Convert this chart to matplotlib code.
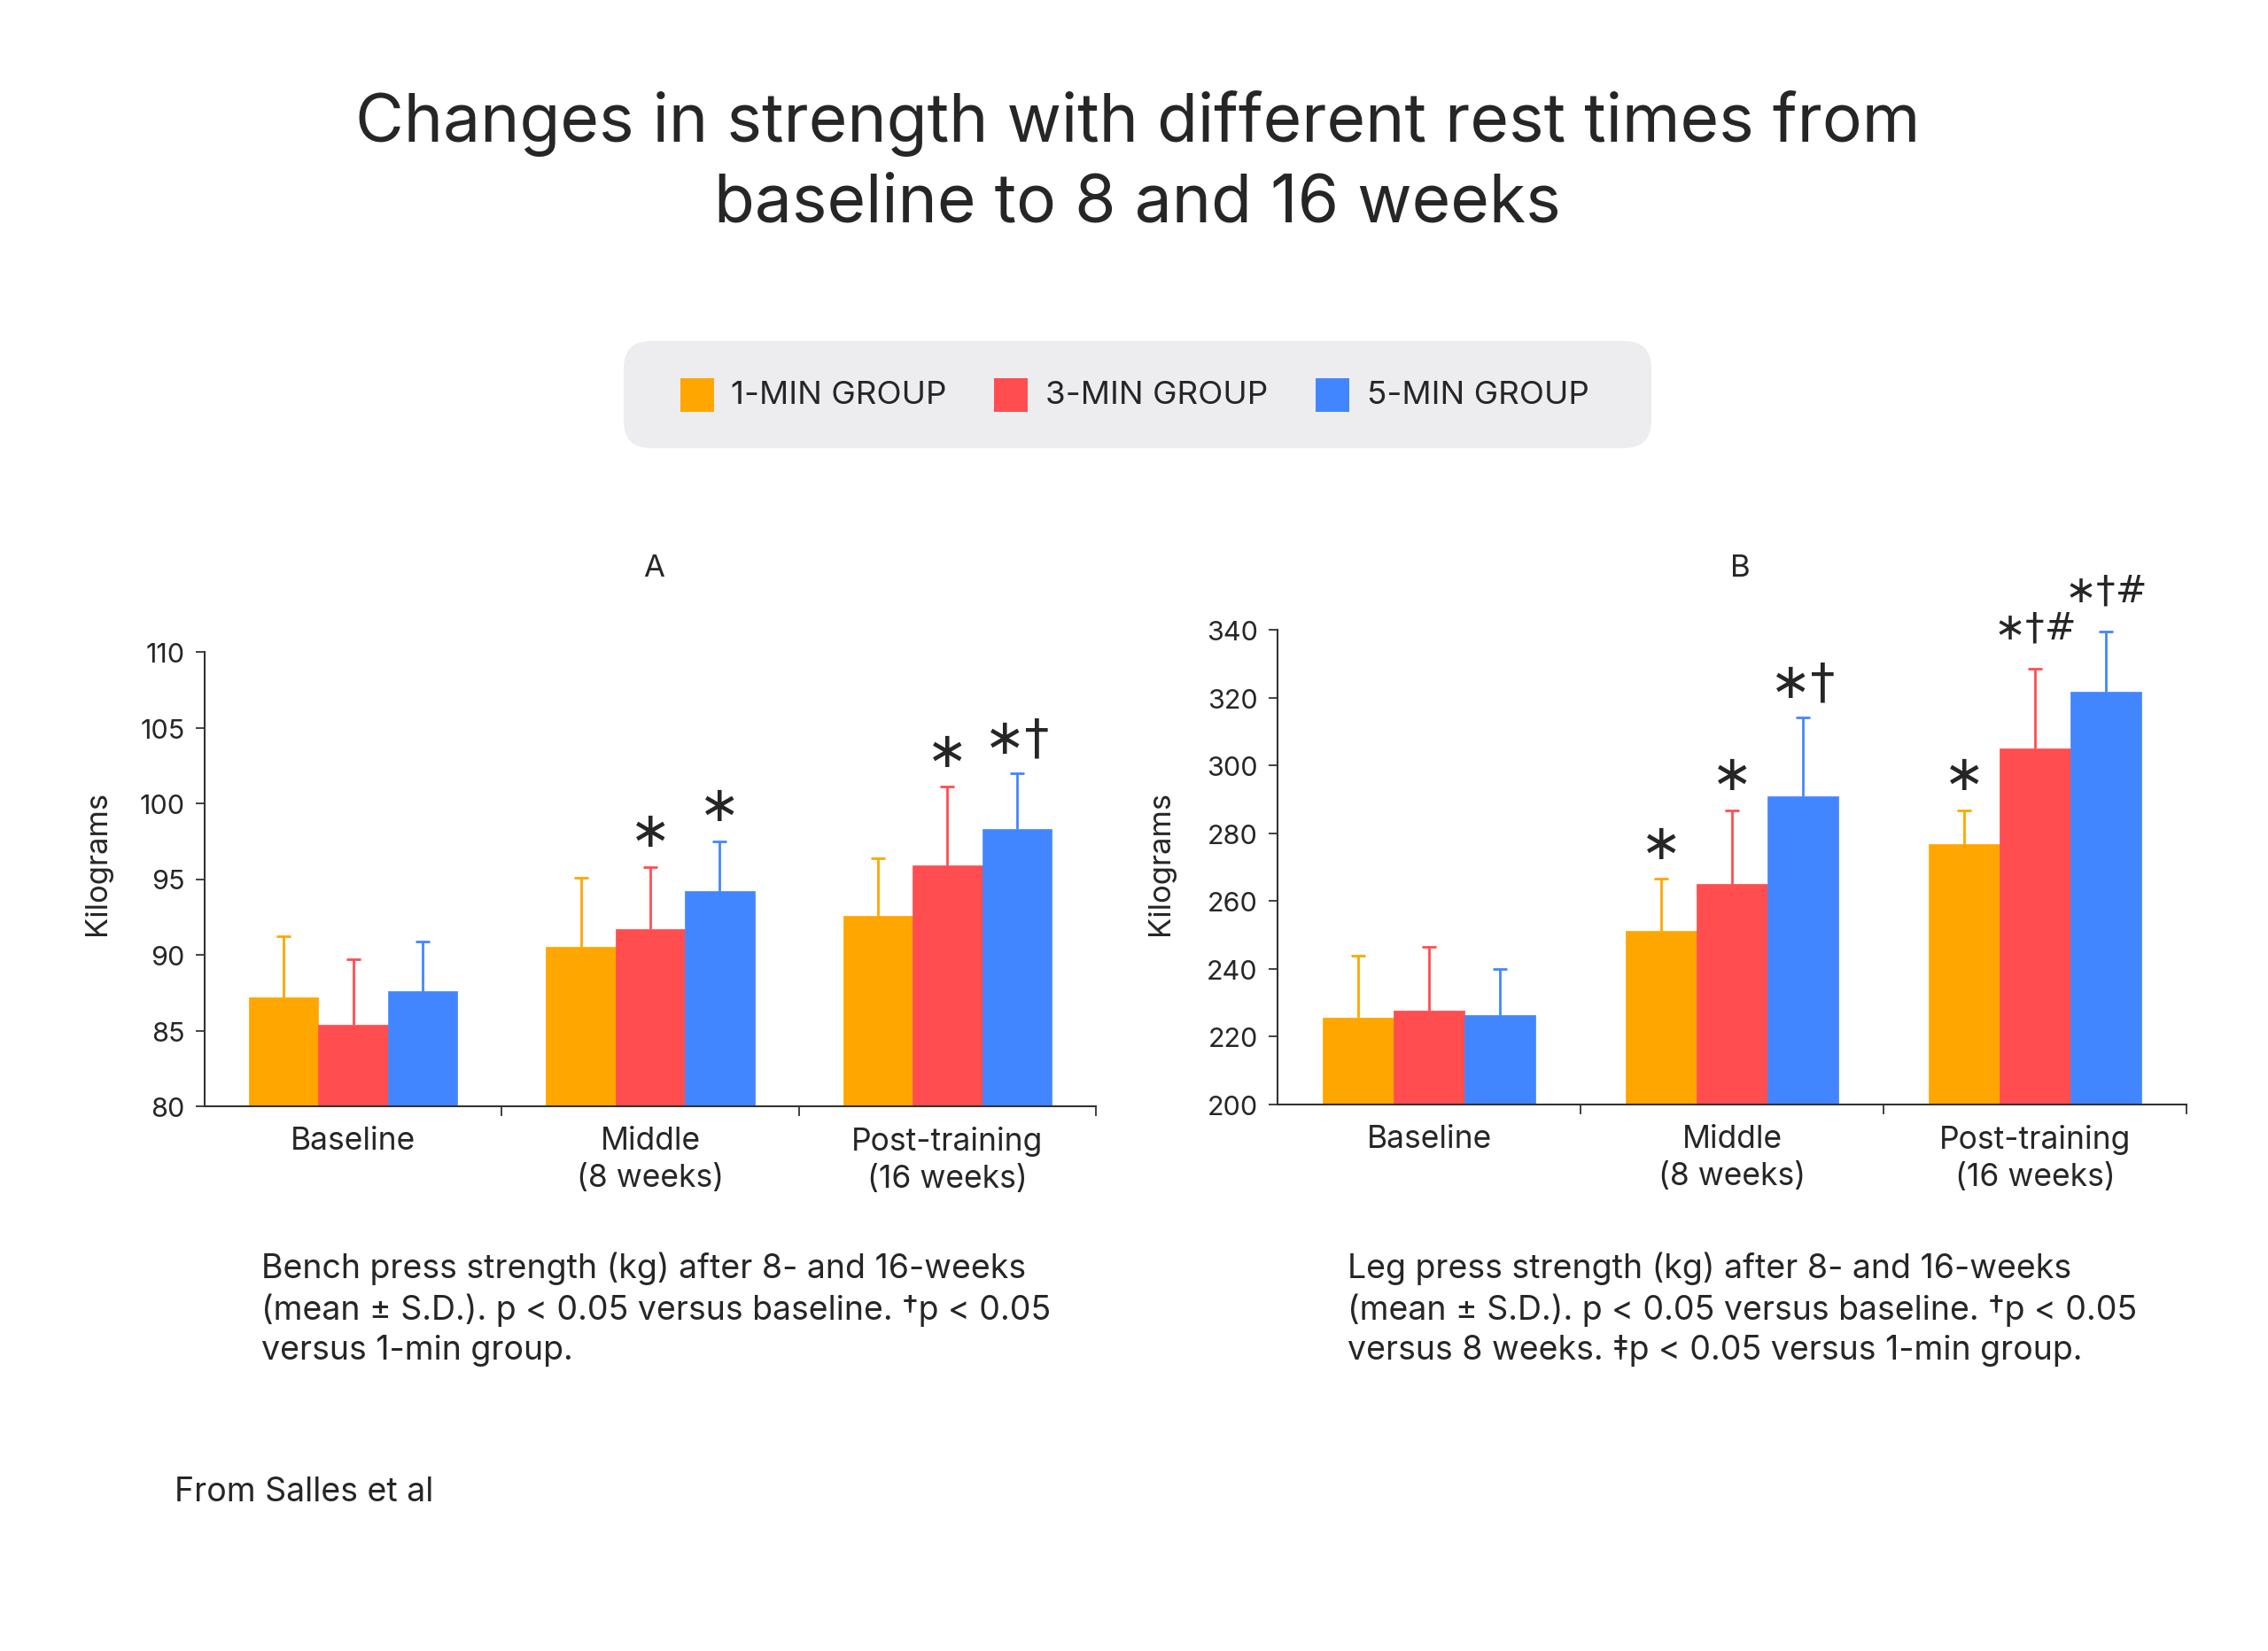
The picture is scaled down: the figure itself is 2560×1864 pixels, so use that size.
import matplotlib
matplotlib.use("Agg")
import matplotlib.pyplot as plt
from matplotlib.patches import FancyBboxPatch, Rectangle
import numpy as np

plt.rcParams['font.family'] = ['Inter', 'DejaVu Sans']

W, H = 2560, 1865
TXT = '#262626'

groups = ['1-MIN GROUP', '3-MIN GROUP', '5-MIN GROUP']
colors = ['#FFA600', '#FF4D50', '#4286FF']
categories = ['Baseline', 'Middle\n(8 weeks)', 'Post-training\n(16 weeks)']

# Panel A: bench press (kg)
bench_mean = [[87.2, 90.5, 92.6],   # 1-min
              [85.4, 91.7, 95.9],   # 3-min
              [87.6, 94.2, 98.3]]   # 5-min
bench_top = [[91.2, 95.1, 96.4],
             [89.7, 95.8, 101.1],
             [90.9, 97.5, 102.0]]
bench_marks = [['', '', ''],
               ['', '∗', '∗'],
               ['', '∗', '∗†']]
bench_yticks = [80, 85, 90, 95, 100, 105, 110]

# Panel B: leg press (kg)
leg_mean = [[225.5, 251.3, 276.9],
            [227.7, 265.0, 304.9],
            [226.5, 291.0, 321.6]]
leg_top = [[244.0, 266.5, 286.8],
           [246.5, 286.8, 328.5],
           [240.0, 314.2, 339.5]]
leg_marks = [['', '∗', '∗'],
             ['', '∗', '∗†#'],
             ['', '∗†', '∗†#']]
leg_yticks = [200, 220, 240, 260, 280, 300, 320, 340]

caption_a = ("Bench press strength (kg) after 8- and 16-weeks\n"
             "(mean ± S.D.). p < 0.05 versus baseline. †p < 0.05\n"
             "versus 1-min group.")
caption_b = ("Leg press strength (kg) after 8- and 16-weeks\n"
             "(mean ± S.D.). p < 0.05 versus baseline. †p < 0.05\n"
             "versus 8 weeks. ‡p < 0.05 versus 1-min group.")
title = "Changes in strength with different rest times from\nbaseline to 8 and 16 weeks"
source = "From Salles et al"

fig = plt.figure(figsize=(W / 100, H / 100), dpi=100)
fig.patch.set_facecolor('white')


def fx(px):
    return px / W


def fy(py):
    return 1 - py / H


def panel(rect, means, tops, marks, yticks, label_x):
    ax = fig.add_axes(rect)
    x = np.arange(len(categories))
    bw = 0.234
    for i in range(3):
        xs = x + (i - 1) * bw
        ax.bar(xs, means[i], width=bw, color=colors[i], zorder=2,
               edgecolor=colors[i], linewidth=0.5)
        up = np.array(tops[i]) - np.array(means[i])
        _, caps, _ = ax.errorbar(xs, means[i], yerr=[np.zeros(3), up], fmt='none',
                                 ecolor=colors[i], elinewidth=2.0, capsize=6,
                                 capthick=2.0, zorder=1)
        caps[0].set_visible(False)
        for j in range(3):
            m = marks[i][j]
            if m:
                if '#' in m:
                    fs, off = 31, 25
                else:
                    fs, off = 40, 17
                ax.annotate(m, (xs[j], tops[i][j]), xytext=(0, off),
                            textcoords='offset points', ha='center', va='baseline',
                            fontsize=fs, color=TXT, family=['DejaVu Sans'])
    ax.set_xlim(-0.5, 2.5)
    ax.set_ylim(yticks[0], yticks[-1])
    ax.set_yticks(yticks)
    ax.set_xticks(x)
    ax.set_xticklabels(categories, fontsize=25.5, color=TXT, linespacing=1.33)
    ax.set_xticks([0.5, 1.5, 2.5], minor=True)
    ax.tick_params(axis='x', which='major', length=0, pad=16)
    ax.tick_params(axis='x', which='minor', length=8, width=1.3, color='#333333')
    ax.tick_params(axis='y', length=7, width=1.3, color='#333333', labelsize=22,
                   labelcolor=TXT, pad=9)
    for s in ['top', 'right']:
        ax.spines[s].set_visible(False)
    for s in ['left', 'bottom']:
        ax.spines[s].set_linewidth(1.5)
        ax.spines[s].set_color('#333333')
    ax.set_ylabel('Kilograms', fontsize=25, color=TXT)
    ax.yaxis.set_label_coords(label_x, fy(974), transform=fig.transFigure)
    return ax


axA = panel([fx(231), fy(1250), fx(1237) - fx(231), fy(737) - fy(1250)],
            bench_mean, bench_top, bench_marks, bench_yticks, fx(126))
axB = panel([fx(1442), fy(1248), fx(2468) - fx(1442), fy(712) - fy(1248)],
            leg_mean, leg_top, leg_marks, leg_yticks, fx(1326))

fig.text(fx(738), fy(642), 'A', ha='center', va='center', fontsize=25, color=TXT)
fig.text(fx(1964), fy(642), 'B', ha='center', va='center', fontsize=25, color=TXT)

# Title
fig.text(0.5 + fx(4), fy(184), title, ha='center', va='center', fontsize=54,
         color=TXT, linespacing=1.33)

# Legend box
box = FancyBboxPatch((fx(704), fy(507)), fx(1864) - fx(704), fy(386) - fy(507),
                     boxstyle='round,pad=0,rounding_size=0.012',
                     transform=fig.transFigure, facecolor='#EDEDF0',
                     edgecolor='none', mutation_aspect=W / H)
fig.patches.append(box)
sq_x = [768, 1122, 1485]
tx_x = [825, 1180, 1543]
for i in range(3):
    fig.patches.append(Rectangle((fx(sq_x[i]), fy(466)), fx(38), 38 / H,
                                 transform=fig.transFigure, facecolor=colors[i],
                                 edgecolor='none'))
    fig.text(fx(tx_x[i]), fy(447), groups[i], ha='left', va='center',
             fontsize=26.5, color=TXT)

# Captions
fig.text(fx(295), fy(1414), caption_a, ha='left', va='top', fontsize=27,
         color=TXT, linespacing=1.31)
fig.text(fx(1521), fy(1414), caption_b, ha='left', va='top', fontsize=27,
         color=TXT, linespacing=1.31)
fig.text(fx(197), fy(1685), source, ha='left', va='center', fontsize=27, color=TXT)

fig.savefig('out.png', dpi=100, facecolor='white')
